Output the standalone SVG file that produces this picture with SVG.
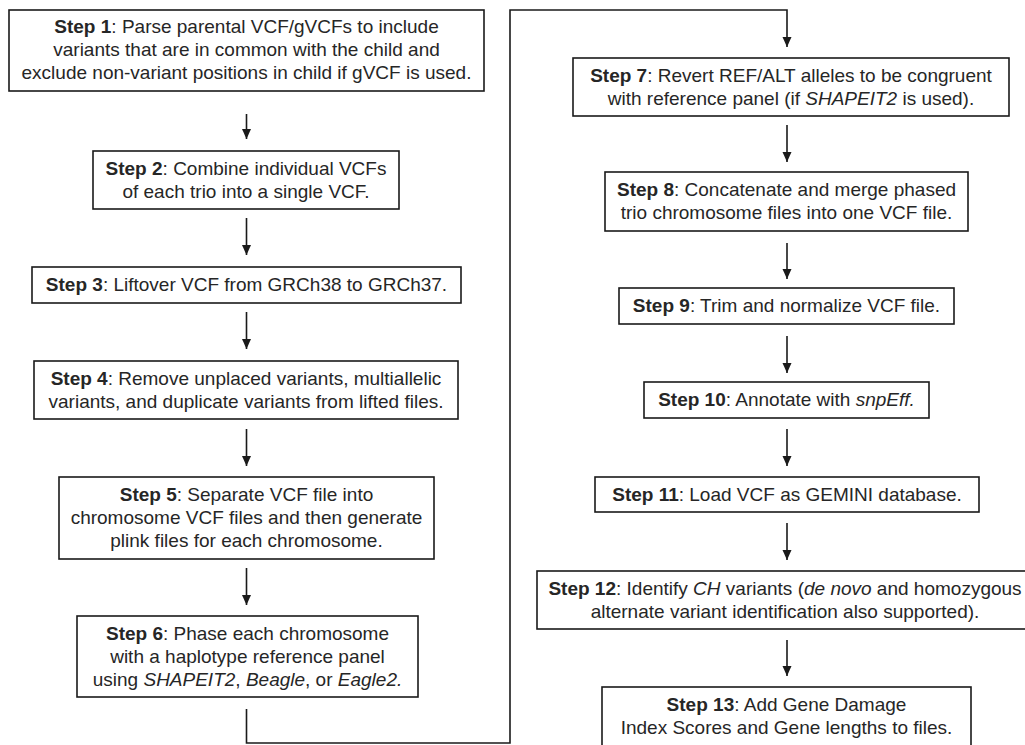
<svg xmlns="http://www.w3.org/2000/svg" width="1025" height="745" viewBox="0 0 1025 745">
<defs>
<style>
.box{fill:#fff;stroke:#1a1a1a;stroke-width:1.6}
.t{font-family:"Liberation Sans",Arial,Helvetica,sans-serif;font-size:19px;fill:#262626;text-anchor:middle}
.b{font-weight:bold}
.i{font-style:italic}
.c{fill:none;stroke:#1a1a1a;stroke-width:1.6}
</style>
<marker id="ah" viewBox="0 0 10 10" refX="10" refY="5" markerWidth="10" markerHeight="10" markerUnits="userSpaceOnUse" orient="auto">
<path d="M0,0.5 L10,5 L0,9.5 Z" fill="#1a1a1a"/>
</marker>
</defs>
<rect width="1025" height="745" fill="#fff"/>
<g id="connectors">
<line class="c" x1="246.5" y1="114" x2="246.5" y2="139" marker-end="url(#ah)"/>
<line class="c" x1="246.5" y1="218" x2="246.5" y2="255" marker-end="url(#ah)"/>
<line class="c" x1="246.5" y1="312" x2="246.5" y2="349" marker-end="url(#ah)"/>
<line class="c" x1="246.5" y1="429" x2="246.5" y2="466" marker-end="url(#ah)"/>
<line class="c" x1="246.5" y1="568" x2="246.5" y2="605" marker-end="url(#ah)"/>
<path class="c" d="M246.5,709 V743 H510 V10 H787 V47" marker-end="url(#ah)"/>
<line class="c" x1="787" y1="125" x2="787" y2="162" marker-end="url(#ah)"/>
<line class="c" x1="787" y1="243" x2="787" y2="279" marker-end="url(#ah)"/>
<line class="c" x1="787" y1="336" x2="787" y2="373" marker-end="url(#ah)"/>
<line class="c" x1="787" y1="429" x2="787" y2="466" marker-end="url(#ah)"/>
<line class="c" x1="787" y1="523" x2="787" y2="560" marker-end="url(#ah)"/>
<line class="c" x1="787" y1="640" x2="787" y2="676" marker-end="url(#ah)"/>
</g>
<g id="step1">
<rect class="box" x="9" y="10" width="475" height="81"/>
<text class="t" x="246.5" y="33"><tspan class="b">Step 1</tspan>: Parse parental VCF/gVCFs to include</text>
<text class="t" x="246.5" y="56">variants that are in common with the child and</text>
<text class="t" x="246.5" y="79">exclude non-variant positions in child if gVCF is used.</text>
</g>
<g id="step2">
<rect class="box" x="93" y="151" width="306" height="58"/>
<text class="t" x="246" y="175"><tspan class="b">Step 2</tspan>: Combine individual VCFs</text>
<text class="t" x="246" y="198">of each trio into a single VCF.</text>
</g>
<g id="step3">
<rect class="box" x="32" y="267" width="429" height="36"/>
<text class="t" x="246.5" y="291"><tspan class="b">Step 3</tspan>: Liftover VCF from GRCh38 to GRCh37.</text>
</g>
<g id="step4">
<rect class="box" x="34" y="361" width="424" height="58"/>
<text class="t" x="246" y="385"><tspan class="b">Step 4</tspan>: Remove unplaced variants, multiallelic</text>
<text class="t" x="246" y="408">variants, and duplicate variants from lifted files.</text>
</g>
<g id="step5">
<rect class="box" x="59" y="477" width="375" height="82"/>
<text class="t" x="246.5" y="501"><tspan class="b">Step 5</tspan>: Separate VCF file into</text>
<text class="t" x="246.5" y="524">chromosome VCF files and then generate</text>
<text class="t" x="246.5" y="547">plink files for each chromosome.</text>
</g>
<g id="step6">
<rect class="box" x="77" y="616" width="341" height="81"/>
<text class="t" x="247.5" y="640"><tspan class="b">Step 6</tspan>: Phase each chromosome</text>
<text class="t" x="247.5" y="663">with a haplotype reference panel</text>
<text class="t" x="247.5" y="686">using <tspan class="i">SHAPEIT2</tspan>, <tspan class="i">Beagle</tspan>, or <tspan class="i">Eagle2.</tspan></text>
</g>
<g id="step7">
<rect class="box" x="573" y="58" width="436" height="58"/>
<text class="t" x="791" y="82"><tspan class="b">Step 7</tspan>: Revert REF/ALT alleles to be congruent</text>
<text class="t" x="791" y="105">with reference panel (if <tspan class="i">SHAPEIT2</tspan> is used).</text>
</g>
<g id="step8">
<rect class="box" x="605" y="172" width="363" height="59"/>
<text class="t" x="786.5" y="196"><tspan class="b">Step 8</tspan>: Concatenate and merge phased</text>
<text class="t" x="786.5" y="219">trio chromosome files into one VCF file.</text>
</g>
<g id="step9">
<rect class="box" x="619" y="288" width="335" height="36"/>
<text class="t" x="786.5" y="312"><tspan class="b">Step 9</tspan>: Trim and normalize VCF file.</text>
</g>
<g id="step10">
<rect class="box" x="644" y="382" width="285" height="36"/>
<text class="t" x="786.5" y="406"><tspan class="b">Step 10</tspan>: Annotate with <tspan class="i">snpEff.</tspan></text>
</g>
<g id="step11">
<rect class="box" x="595" y="477" width="384" height="35"/>
<text class="t" x="787" y="501"><tspan class="b">Step 11</tspan>: Load VCF as GEMINI database.</text>
</g>
<g id="step12">
<rect class="box" x="537" y="571" width="500" height="58"/>
<text class="t" x="785" y="595"><tspan class="b">Step 12</tspan>: Identify <tspan class="i">CH</tspan> variants (<tspan class="i">de novo</tspan> and homozygous</text>
<text class="t" x="785" y="618">alternate variant identification also supported).</text>
</g>
<g id="step13">
<rect class="box" x="602" y="687" width="369" height="62"/>
<text class="t" x="786.5" y="711"><tspan class="b">Step 13</tspan>: Add Gene Damage</text>
<text class="t" x="786.5" y="734">Index Scores and Gene lengths to files.</text>
</g>
</svg>
